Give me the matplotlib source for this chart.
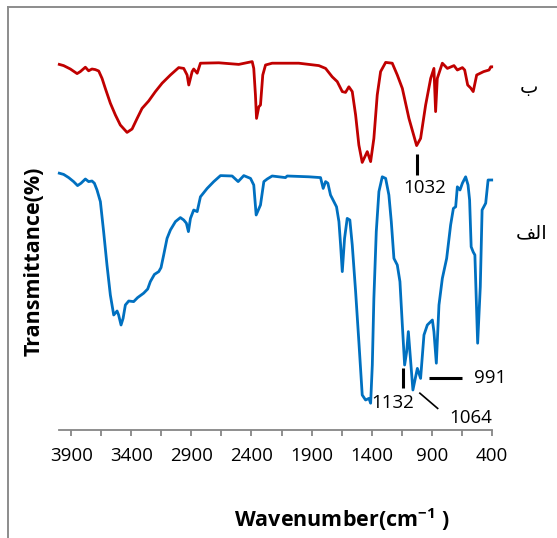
import matplotlib
matplotlib.use("Agg")
import matplotlib.pyplot as plt
from matplotlib.lines import Line2D
import numpy as np

# ---- data ----
wn_b = [4000, 3964, 3908, 3852, 3825, 3783, 3756, 3728, 3700, 3672, 3644, 3617, 3575, 3533,
        3492, 3436, 3394, 3352, 3311, 3256, 3200, 3144, 3075, 3006, 2964, 2936, 2922, 2894,
        2881, 2852, 2825, 2672, 2506, 2394, 2381, 2367, 2358, 2339, 2325, 2306, 2283, 2228,
        2006, 1839, 1783, 1728, 1686, 1644, 1617, 1589, 1561, 1533, 1506, 1478, 1436, 1408,
        1381, 1353, 1325, 1283, 1228, 1186, 1144, 1089, 1025, 992, 950, 908, 881, 867, 853,
        811, 769, 714, 686, 644, 625, 600, 575, 554, 525, 467, 422, 408, 400]
t_b = [91.4, 91.1, 90.25, 89.1, 89.6, 90.7, 89.8, 90.25, 90.1, 89.75, 87.9, 85.4, 81.7, 78.75,
       76.25, 74.4, 75.25, 77.9, 80.4, 82.25, 84.6, 86.7, 88.75, 90.6, 90.4, 88.75, 86.25, 89.6,
       90.25, 89.2, 91.7, 91.8, 91.4, 92.1, 90.4, 83.75, 77.9, 80.8, 81.25, 88.75, 91.25, 91.7,
       91.7, 91.1, 90.4, 88.3, 87.1, 84.6, 84.4, 85.8, 84.6, 78.75, 71.25, 66.9, 69.6, 67.1,
       72.9, 83.75, 89.6, 91.9, 91.7, 88.75, 85.4, 77.9, 71.1, 72.9, 81.25, 87.9, 90.4, 79.6, 87.9,
       91.7, 90.4, 91.1, 90.0, 90.6, 90.0, 86.25, 85.5, 84.6, 88.75, 89.6, 90.0, 90.8, 90.8]

wn_a = [4000, 3964, 3922, 3881, 3848, 3819, 3783, 3756, 3728, 3708, 3686, 3658, 3631, 3603,
        3575, 3547, 3519, 3506, 3486, 3469, 3450, 3422, 3381, 3348, 3298, 3264, 3242, 3208,
        3172, 3153, 3131, 3103, 3075, 3033, 2992, 2964, 2942, 2925, 2908, 2881, 2852, 2825,
        2769, 2714, 2658, 2561, 2511, 2464, 2408, 2381, 2361, 2325, 2297, 2269, 2228, 2117,
        2103, 1922, 1825, 1803, 1783, 1764, 1742, 1714, 1692, 1672, 1658, 1644, 1625, 1603,
        1581, 1561, 1533, 1506, 1478, 1450, 1422, 1408, 1394, 1381, 1361, 1339, 1311, 1283,
        1256, 1236, 1214, 1186, 1164, 1144, 1125, 1108, 1094, 1081, 1056, 1019, 992, 964, 936,
        894, 881, 861, 839, 811, 775, 742, 719, 700, 686, 664, 644, 617, 597, 584, 571, 554,
        540, 517, 495, 480, 450, 430, 400]
t_a = [64.2, 63.9, 63.1, 62.1, 61.1, 61.7, 62.75, 62.1, 62.25, 61.7, 60.0, 57.1, 49.6, 41.25,
       33.75, 28.75, 29.75, 28.75, 26.25, 27.9, 31.25, 32.25, 32.1, 33.1, 34.2, 35.25, 37.1, 38.9,
       39.6, 40.6, 43.75, 47.9, 50.0, 52.1, 53.1, 52.5, 51.7, 49.6, 52.9, 55.0, 54.6, 58.3,
       60.4, 62.1, 63.6, 63.5, 62.1, 63.6, 62.9, 61.25, 53.75, 56.25, 62.1, 62.75, 63.5, 63.1,
       63.5, 63.3, 63.1, 60.4, 62.1, 61.7, 58.75, 57.1, 55.8, 52.1, 46.25, 39.6, 47.9, 52.9,
       52.5, 46.25, 34.6, 22.1, 8.75, 7.5, 7.9, 6.7, 16.25, 32.9, 49.6, 59.6, 63.3, 62.9,
       58.75, 52.1, 42.9, 41.25, 37.1, 26.25, 16.25, 19.6, 24.6, 19.6, 10.0, 15.4, 12.9, 23.75, 26.25,
       27.5, 24.6, 16.7, 31.25, 37.9, 42.9, 51.25, 55.4, 55.8, 60.8, 60.0, 61.7, 63.3, 61.25, 57.5, 45.8, 44.5,
       43.75, 21.7, 35.8, 55.0, 56.7, 62.5, 62.5]

tick_pos = [3900, 3650, 3400, 3150, 2900, 2650, 2400, 2150, 1900, 1650, 1400, 1150, 900, 650, 400]
tick_labels = ["3900", "", "3400", "", "2900", "", "2400", "", "1900", "", "1400", "", "900", "", "400"]

peak_labels = ["1032", "1132", "1064", "991"]
series_labels = ["\u0628", "\uFED2\uFEDF\uFE8D"]   # ب , الف (shaped, visual order)

# ---- figure ----
W, H = 557, 538
fig = plt.figure(figsize=(W / 100, H / 100), dpi=100)
ax = fig.add_axes([59.3 / W, 1 - 430 / H, (491.7 - 59.3) / W, 400 / H])
ax.set_xlim(4000, 400)
ax.set_ylim(0, 100)

red = "#C00000"
blue = "#0070C0"
ax.plot(wn_b, t_b, color=red, lw=2.0, solid_joinstyle="round", clip_on=False)
ax.plot(wn_a, t_a, color=blue, lw=2.0, solid_joinstyle="round", clip_on=False)

for s in ["left", "right", "top"]:
    ax.spines[s].set_visible(False)
ax.spines["bottom"].set_color("#868686")
ax.spines["bottom"].set_linewidth(1.3)
ax.set_yticks([])
ax.set_xticks(tick_pos)
ax.set_xticklabels(tick_labels, fontfamily="Open Sans", fontsize=13.5)
ax.tick_params(axis="x", direction="out", length=4, width=1.3, color="#868686", pad=8)

# peak annotations
k = "black"
ax.plot([1022, 1022], [63.75, 69], color=k, lw=2.2, solid_capstyle="butt")
ax.text(954, 60.4, peak_labels[0], ha="center", va="center", fontfamily="Open Sans", fontsize=13.5)
ax.plot([1138, 1138], [10.4, 15.4], color=k, lw=2.2, solid_capstyle="butt")
ax.text(1225, 6.7, peak_labels[1], ha="center", va="center", fontfamily="Open Sans", fontsize=13.5)
ax.plot([998, 850], [9.2, 5.4], color=k, lw=1.2)
ax.text(575, 3.0, peak_labels[2], ha="center", va="center", fontfamily="Open Sans", fontsize=13.5,
        clip_on=False)
ax.plot([925, 650], [12.9, 12.9], color=k, lw=2.2, solid_capstyle="butt")
ax.text(417, 13.0, peak_labels[3], ha="center", va="center", fontfamily="Open Sans", fontsize=13.5,
        clip_on=False)

# series labels (Arabic)
fig.text(529 / W, 1 - 88 / H, series_labels[0], ha="center", va="center",
         fontfamily="DejaVu Sans", fontsize=14)
fig.text(532 / W, 1 - 233 / H, series_labels[1], ha="center", va="center",
         fontfamily="DejaVu Sans", fontsize=14)

# axis titles
plt.rcParams["mathtext.fontset"] = "custom"
plt.rcParams["mathtext.rm"] = "Open Sans:bold"
plt.rcParams["mathtext.it"] = "Open Sans:bold"
plt.rcParams["mathtext.bf"] = "Open Sans:bold"
fig.text(342 / W, 1 - 520 / H, r"Wavenumber(cm$^{\mathrm{-1}}$ )", ha="center", va="center",
         fontfamily="Open Sans", fontweight="bold", fontsize=15.5)
fig.text(33.7 / W, 1 - 261 / H, "Transmittance(%)", ha="center", va="center", rotation=90,
         fontfamily="Open Sans", fontweight="bold", fontsize=15.5)

# chart border (left and top visible)
fig.add_artist(Line2D([8 / W, 8 / W], [0, 1 - 7 / H], color="#8c8c8c", lw=1.4))
fig.add_artist(Line2D([8 / W, 1], [1 - 7 / H, 1 - 7 / H], color="#8c8c8c", lw=1.4))

fig.savefig("out.png", dpi=100)
